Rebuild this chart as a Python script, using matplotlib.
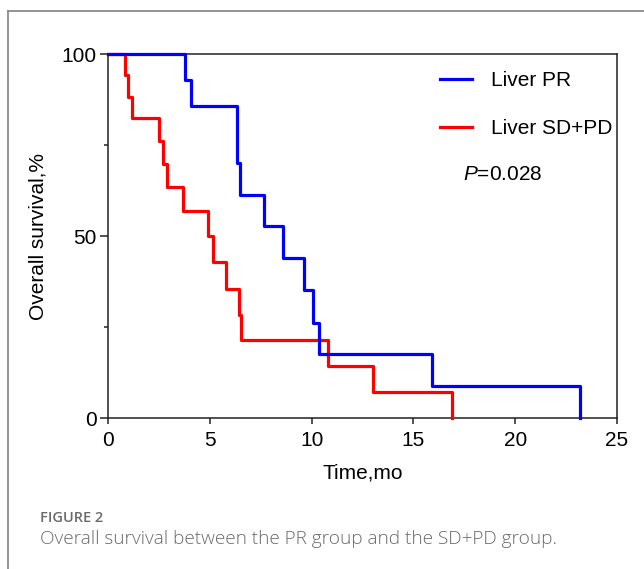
import matplotlib
matplotlib.use("Agg")
import matplotlib.pyplot as plt
from matplotlib.lines import Line2D

plt.rcParams['font.family'] = ['Liberation Sans', 'DejaVu Sans']
plt.rcParams['mathtext.fontset'] = 'custom'
plt.rcParams['mathtext.it'] = 'Liberation Sans:italic'
plt.rcParams['mathtext.rm'] = 'Liberation Sans'

# Data (Kaplan-Meier steps)
pr_time = [0, 3.78, 4.08, 6.32, 6.48, 7.68, 8.6, 9.63, 10.08, 10.38, 15.89, 23.18]
pr_surv = [100, 92.9, 85.7, 70.1, 61.4, 52.7, 43.9, 35.2, 26.2, 17.5, 8.8, 0]
sdpd_time = [0, 0.83, 1.0, 1.2, 2.5, 2.68, 2.88, 3.7, 4.9, 5.17, 5.78, 6.43, 6.52, 10.79, 13.0, 16.9]
sdpd_surv = [100, 94.2, 88.2, 82.4, 76.1, 69.9, 63.5, 57.0, 50.0, 42.8, 35.4, 28.3, 21.4, 14.4, 7.1, 0]
series_labels = ["Liver PR", "Liver SD+PD"]
x_ticks = [0, 5, 10, 15, 20, 25]
y_ticks = [0, 50, 100]
p_text = "$P$=0.028"

FS = 15
W, H = 644, 569
fig = plt.figure(figsize=(W / 100, H / 100), dpi=100)
ax = fig.add_axes([108 / W, 1 - 418 / H, (617 - 108) / W, (418 - 54) / H])

ax.step(sdpd_time, sdpd_surv, where='post', color='#ff0000', lw=2.3, zorder=3,
        clip_on=False, label=series_labels[1])
ax.step(pr_time, pr_surv, where='post', color='#0000ff', lw=2.3, zorder=4,
        clip_on=False, label=series_labels[0])

ax.set_xlim(0, 25)
ax.set_ylim(0, 100)
ax.set_xticks(x_ticks)
ax.set_yticks(y_ticks)
ax.set_yticks([25, 75], minor=True)
for s in ax.spines.values():
    s.set_color('#222222')
    s.set_linewidth(1.1)
ax.tick_params(axis='both', which='major', direction='out', width=1.1,
               color='#222222', labelsize=FS)
ax.tick_params(axis='x', which='major', length=4, pad=5)
ax.tick_params(axis='y', which='major', length=6, pad=2)
ax.tick_params(axis='y', which='minor', direction='out', length=3, width=1.1, color='#222222')
ax.set_xlabel("Time,mo", fontsize=FS, labelpad=10)
ax.set_ylabel("Overall survival,%", fontsize=FS, labelpad=10)

handles, labels = ax.get_legend_handles_labels()
order = [labels.index(series_labels[0]), labels.index(series_labels[1])]
leg = ax.legend([handles[i] for i in order], [labels[i] for i in order],
                loc='upper left', bbox_to_anchor=(0.6155, 1.005), frameon=False,
                fontsize=FS, handlelength=1.54, handletextpad=0.91, labelspacing=1.4,
                borderaxespad=0.5)
for h in leg.get_lines():
    h.set_linewidth(2.3)

ax.text(0.697, 0.668, p_text, transform=ax.transAxes, fontsize=FS, va='center', ha='left')

# figure frame (open at right and bottom)
fig.add_artist(Line2D([8 / W, 8 / W], [0, 1 - 11 / H], transform=fig.transFigure,
                      color='#8a8a8a', lw=1.3))
fig.add_artist(Line2D([8 / W, 1], [1 - 11 / H, 1 - 11 / H], transform=fig.transFigure,
                      color='#8a8a8a', lw=1.3))

fig.text(40 / W, 1 - 518 / H, "FIGURE 2", fontsize=10.5, color='#6b6b6b',
         family=['Open Sans', 'DejaVu Sans'], fontweight='semibold', va='center')
fig.text(40 / W, 1 - 539 / H, "Overall survival between the PR group and the SD+PD group.",
         fontsize=13.7, color='#6a6a6a', family=['Open Sans', 'DejaVu Sans'],
         fontweight='light', va='center')

fig.savefig("out.png", dpi=100)
